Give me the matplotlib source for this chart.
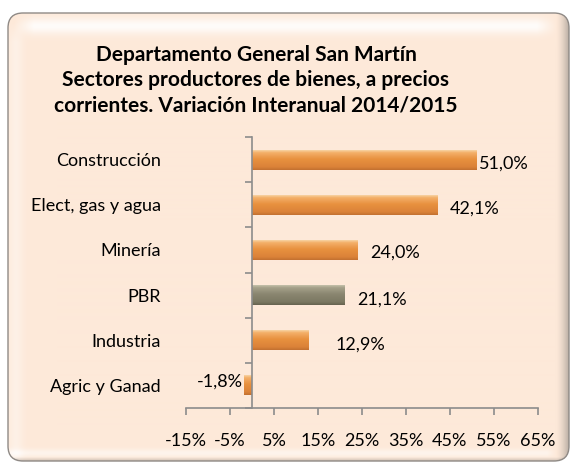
import numpy as np
import matplotlib
matplotlib.use("Agg")
import matplotlib.pyplot as plt
from matplotlib.patches import FancyBboxPatch
from matplotlib.colors import LinearSegmentedColormap, to_rgb

plt.rcParams['font.family'] = ['Lato', 'DejaVu Sans']

# ---- data ----
categories = ["Construcción", "Elect, gas y agua", "Minería", "PBR", "Industria", "Agric y Ganad"]
values = [51.0, 42.1, 24.0, 21.1, 12.9, -1.8]
value_labels = ["51,0%", "42,1%", "24,0%", "21,1%", "12,9%", "-1,8%"]
xticks = [-15, -5, 5, 15, 25, 35, 45, 55, 65]
xtick_labels = ["-15%", "-5%", "5%", "15%", "25%", "35%", "45%", "55%", "65%"]
title = ("Departamento General San Martín\n"
         "Sectores productores de bienes, a precios\n"
         "corrientes. Variación Interanual 2014/2015")
highlight = "PBR"

# label offsets (points) for each data label
label_dx = [2, 9, 9, 9, 19, -1]
label_dy = [-3, -3, -2, -3, -3, 3]

W, H = 573, 465
fig = plt.figure(figsize=(W / 100, H / 100), dpi=100)
fig.patch.set_facecolor("white")

# ---- background rounded box with bevel ----
bg = fig.add_axes([0, 0, 1, 1], zorder=0)
bg.set_xlim(0, W)
bg.set_ylim(H, 0)
bg.axis("off")
bx0, by0, bx1, by1 = 8, 13, 569, 461
box = FancyBboxPatch((bx0, by0), bx1 - bx0, by1 - by0,
                     boxstyle="round,pad=0,rounding_size=15",
                     facecolor="#fde9d9", edgecolor="none")
bg.add_patch(box)

nx, ny = bx1 - bx0, by1 - by0
xs = np.arange(nx)[None, :] + 0.5
ys = np.arange(ny)[:, None] + 0.5
base = np.array(to_rgb("#fde9d9"))
white = np.array([1.0, 1.0, 1.0])
dark = np.array(to_rgb("#a39a92"))
img = np.ones((ny, nx, 3)) * base
# top highlight band
tband = np.exp(-((ys - 14) / 8.0) ** 2) * 0.85
tband = tband * np.clip((xs - 6) / 20, 0, 1) * np.clip((nx - 12 - xs) / 20, 0, 1)
# left light band
lband = np.exp(-((xs - 8) / 7.0) ** 2) * 0.35 * np.clip((ys - 10) / 20, 0, 1)
# bottom light band
bband = np.exp(-((ys - (ny - 8)) / 4.0) ** 2) * 0.5 * np.clip((nx - 12 - xs) / 10, 0, 1)
light = np.clip(tband + lband + bband, 0, 0.9)
img = img + (white - img) * light[..., None] if light.ndim == 3 else img + (white - img) * np.broadcast_to(light, (ny, nx))[..., None]
# right dark shading
rshade = np.clip((xs - (nx - 13)) / 13, 0, 1) ** 1.5 * 0.75
# bottom dark edge
bshade = np.clip((ys - (ny - 4)) / 4, 0, 1) * 0.5
shade = np.clip(np.broadcast_to(rshade, (ny, nx)) + np.broadcast_to(bshade, (ny, nx)), 0, 0.85)
img = img + (dark - img) * shade[..., None]
im = bg.imshow(img, extent=(bx0, bx1, by1, by0), aspect="auto",
               interpolation="bilinear", zorder=1)
im.set_clip_path(box)
edge = FancyBboxPatch((bx0, by0), bx1 - bx0, by1 - by0,
                      boxstyle="round,pad=0,rounding_size=15",
                      facecolor="none", edgecolor="#8f8a86", linewidth=1.0, zorder=2)
bg.add_patch(edge)

fig.text(256 / W, 1 - 80 / H, title, ha="center", va="center", fontsize=15,
         fontweight="bold", linespacing=1.32, color="black")

# ---- chart axes ----
ax = fig.add_axes([186 / W, 1 - 408 / H, 351.7 / W, 271 / H], zorder=3)
ax.patch.set_alpha(0)
y = np.arange(len(categories))[::-1]
orange_cmap = LinearSegmentedColormap.from_list(
    "o", [(0, "#f7d3a4"), (0.12, "#f4b06a"), (0.45, "#e8913f"), (0.85, "#db8238"), (1, "#c27030")])
gray_cmap = LinearSegmentedColormap.from_list(
    "g", [(0, "#c5c1aa"), (0.12, "#a6a28a"), (0.45, "#8a8670"), (0.85, "#7b7862"), (1, "#66634f")])

bars = ax.barh(y, values, height=0.44, color="#e8913f", edgecolor="none", zorder=2)
ax.set_xlim(-15, 65)
ax.set_ylim(-0.5, len(categories) - 0.5)
gvals = np.linspace(0, 1, 64).reshape(-1, 1)
for bar, cat in zip(bars, categories):
    cmap = gray_cmap if cat == highlight else orange_cmap
    bb = bar.get_bbox()
    bimg = ax.imshow(gvals, cmap=cmap, extent=(bb.x0, bb.x1, bb.y0, bb.y1),
                     origin="upper", aspect="auto", interpolation="bilinear", zorder=2.5)
    bimg.set_clip_path(bar)
ax.set_xlim(-15, 65)
ax.set_ylim(-0.5, len(categories) - 0.5)

for yi, v, lab, dx, dy in zip(y, values, value_labels, label_dx, label_dy):
    ha = "left" if v >= 0 else "right"
    ax.annotate(lab, xy=(v, yi), xytext=(dx, dy), textcoords="offset points",
                ha=ha, va="center", fontsize=13, color="black", zorder=4)

for s in ["top", "right"]:
    ax.spines[s].set_visible(False)
ax.spines["left"].set_position(("data", 0))
ax.spines["left"].set_color("#8c8c8c")
ax.spines["bottom"].set_color("#8c8c8c")
ax.spines["left"].set_linewidth(1.2)
ax.spines["bottom"].set_linewidth(1.2)

ax.set_xticks(xticks)
ax.set_xticklabels(xtick_labels)
ax.tick_params(axis="x", direction="out", length=5, width=1.2, color="#8c8c8c",
               labelsize=13, pad=13)
ax.set_yticks(y)
ax.set_yticklabels(categories)
ax.tick_params(axis="y", which="major", length=0, labelsize=13, pad=65.5)
ax.set_yticks(np.arange(len(categories) + 1) - 0.5, minor=True)
ax.tick_params(axis="y", which="minor", direction="out", length=5, width=1.2, color="#8c8c8c")

fig.savefig("out.png", dpi=100, facecolor="white")
